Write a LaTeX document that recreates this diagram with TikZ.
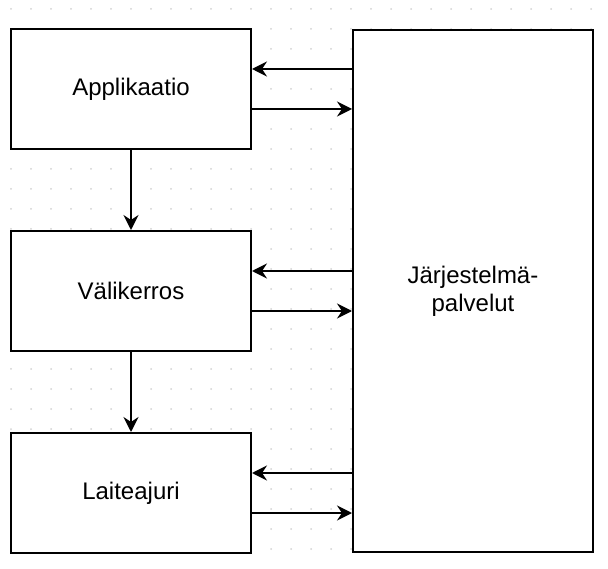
\documentclass[tikz,border=0pt]{standalone}
\usepackage{fontspec}
\setmainfont{Liberation Sans}
\usetikzlibrary{arrows.meta,positioning,calc}

\begin{document}
\begin{tikzpicture}[
    x=1pt, y=1pt,
    node distance=80pt and 100pt,
    layer/.style={rectangle, draw, line width=2pt, fill=white, minimum width=240pt, minimum height=120pt, font=\fontsize{24}{28}\selectfont},
    arrow/.style={-{Stealth[length=15pt, width=15pt, inset=5pt]}, line width=2pt},
    griddot/.style={fill=gray!35}
]
\useasboundingbox (0,0) rectangle (608,-569);

% Background grid
\foreach \x in {0,...,29} {
    \foreach \y in {0,...,27} {
        \fill[griddot] (11+20*\x, -9-20*\y) circle (1pt);
    }
}

% Layers
\node[layer] (app) at (131,-89) {Applikaatio};
\node[layer, below=of app] (mid) {Välikerros};
\node[layer, below=of mid] (drv) {Laiteajuri};

% System services
\node[layer, right=of mid, minimum height=521pt, align=center] (sys) {Järjestelmä-\\palvelut};

% Connections
\draw[arrow] (app) -- (mid);
\draw[arrow] (mid) -- (drv);
\foreach \n in {app,mid,drv} {
    \coordinate (\n-up) at ($(\n.east)+(0,20)$);
    \coordinate (\n-dn) at ($(\n.east)+(0,-20)$);
    \draw[arrow] (sys.west |- \n-up) -- (\n-up);
    \draw[arrow] (\n-dn) -- (sys.west |- \n-dn);
}

\end{tikzpicture}
\end{document}
